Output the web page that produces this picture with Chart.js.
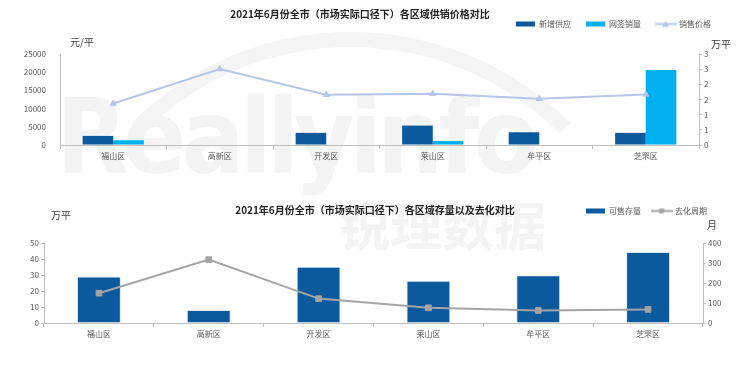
<!DOCTYPE html>
<html>
<head>
<meta charset="utf-8">
<script src="https://cdn.jsdelivr.net/npm/chart.js@4/dist/chart.umd.min.js"></script>
<style>
  html, body { margin: 0; padding: 0; background: #fff; }
  #wrap { position: relative; width: 740px; height: 369px; overflow: hidden; }
  .wm { position: absolute; color: #f4f4f4; font-weight: bold; white-space: nowrap; }
  .ring { position: absolute; border-radius: 50%; border: 15px solid transparent; border-top-color: #f5f5f5; }
  canvas { position: absolute; left: 0; }
</style>
</head>
<body>
<div id="wrap">
  <div class="ring" style="left:41px;top:32px;width:590px;height:590px;"></div>
  <div class="wm" style="left:56px;top:76px;font-size:104px;letter-spacing:-5px;font-stretch:condensed;font-family:'DejaVu Sans',sans-serif;">Reallyinfo</div>
  <div class="wm" style="left:338px;top:186px;font-size:52px;font-family:'Noto Sans CJK SC',sans-serif;">锐理数据</div>
  <canvas id="c1" width="740" height="185" style="top:0"></canvas>
  <canvas id="c2" width="740" height="184" style="top:185px"></canvas>
</div>
<script>
const districts = ['福山区', '高新区', '开发区', '莱山区', '牟平区', '芝罘区'];

// top chart: supply / sales in 万平 (right axis), price in 元/平 (left axis)
const newSupply = [0.30, 0, 0.40, 0.64, 0.42, 0.40];
const signedSales = [0.155, 0, 0, 0.13, 0, 2.47];
const salePrice = [11400, 20900, 13800, 14100, 12700, 13900];

// bottom chart: stock in 万平 (left), months to sell (right)
const stock = [29.1, 8.1, 35.1, 26.4, 29.9, 44.4];
const cycleMonths = [149, 317, 122, 76, 63, 68];

const FONT = '"Noto Sans CJK SC", "Noto Sans", sans-serif';
const tickFont = { family: FONT, size: 8 };
const tickColor = '#595959';
const axisColor = '#BFBFBF';
const darkBlue = '#0B5A9E';
const cyan = '#00B0F0';
const priceColor = '#B4C7E7';
const cycleColor = '#A5A5A5';

// little line+marker picture for the legend
function lineIcon(color, shape) {
  const c = document.createElement('canvas');
  c.width = 22; c.height = 9;
  const g = c.getContext('2d');
  g.strokeStyle = color; g.fillStyle = color; g.lineWidth = 2;
  g.beginPath(); g.moveTo(0, 4.5); g.lineTo(22, 4.5); g.stroke();
  g.beginPath();
  if (shape === 'triangle') {
    g.moveTo(11, 1.5); g.lineTo(14.5, 7.5); g.lineTo(7.5, 7.5); g.closePath();
  } else {
    g.rect(8.5, 2, 5, 5);
  }
  g.fill();
  return c;
}

function legendItems(chart) {
  return chart.data.datasets.map((ds, i) => ({
    text: ds.label,
    fillStyle: ds.backgroundColor,
    strokeStyle: ds.backgroundColor,
    lineWidth: 0,
    pointStyle: ds.type === 'line' ? ds.legendIcon : 'rect',
    fontColor: tickColor,
    datasetIndex: i,
    hidden: false,
  }));
}

// fixes the legend box height and its right edge
const legendBox = {
  id: 'legendBox',
  afterInit(chart, args, opts) {
    const legend = chart.legend;
    if (!legend) return;
    const fit = legend.fit;
    legend.fit = function () { fit.call(this); this.height = opts.height; };
  },
  afterLayout(chart, args, opts) {
    if (chart.legend && opts.right) chart.legend.right = opts.right;
  },
};

// title and axis unit captions
const captions = {
  id: 'captions',
  afterDraw(chart, args, opts) {
    const ctx = chart.ctx;
    ctx.save();
    ctx.textBaseline = 'middle';
    opts.items.forEach((t) => {
      ctx.font = t.font;
      ctx.fillStyle = t.color;
      ctx.textAlign = t.align || 'left';
      ctx.fillText(t.text, t.x, t.y);
    });
    ctx.restore();
  },
};

const titleFont = 'bold 10px ' + FONT;
const unitFont = '10px ' + FONT;

function xAxis() {
  return {
    grid: { display: true, drawOnChartArea: false, drawTicks: true, tickLength: 4, color: axisColor },
    border: { color: axisColor },
    ticks: { font: tickFont, color: tickColor, padding: 2 },
    afterFit(s) { s.height = 20; },
  };
}

new Chart(document.getElementById('c1'), {
  type: 'bar',
  data: {
    labels: districts,
    datasets: [
      {
        type: 'bar', label: '新增供应', data: newSupply, backgroundColor: darkBlue,
        yAxisID: 'y1', order: 1, categoryPercentage: 0.575, barPercentage: 1,
      },
      {
        type: 'bar', label: '网签销量', data: signedSales, backgroundColor: cyan,
        yAxisID: 'y1', order: 1, categoryPercentage: 0.575, barPercentage: 1,
      },
      {
        type: 'line', label: '销售价格', data: salePrice, yAxisID: 'y', order: 0,
        borderColor: priceColor, backgroundColor: priceColor, borderWidth: 2,
        pointStyle: 'triangle', pointRadius: 3.5, pointBackgroundColor: priceColor,
        pointBorderColor: priceColor, pointBorderWidth: 1,
        legendIcon: lineIcon(priceColor, 'triangle'),
      },
    ],
  },
  options: {
    responsive: false,
    animation: false,
    layout: { padding: { left: 10, right: 2, top: 5, bottom: 20 } },
    plugins: {
      legend: {
        position: 'top', align: 'end',
        labels: {
          usePointStyle: true, pointStyleWidth: 19, boxHeight: 5, padding: 15,
          font: tickFont, color: tickColor, generateLabels: legendItems,
        },
      },
      tooltip: { enabled: false },
      legendBox: { height: 49, right: 726 },
      captions: {
        items: [
          { text: '2021年6月份全市（市场实际口径下）各区域供销价格对比', x: 360, y: 14, font: titleFont, color: '#222', align: 'center' },
          { text: '元/平', x: 70, y: 42, font: unitFont, color: '#404040' },
          { text: '万平', x: 711, y: 44, font: unitFont, color: '#404040' },
        ],
      },
    },
    scales: {
      x: xAxis(),
      y: {
        position: 'left', min: 0, max: 25000,
        ticks: { stepSize: 5000, font: tickFont, color: tickColor, padding: 6, callback: (v) => String(v) },
        grid: { display: false },
        border: { color: axisColor },
        afterFit(s) { s.width = 50; },
      },
      y1: {
        position: 'right', min: 0, max: 3,
        ticks: { stepSize: 0.5, font: tickFont, color: tickColor, padding: 2, callback: (v) => Math.round(v) },
        grid: { drawOnChartArea: false, tickLength: 3, color: axisColor },
        border: { color: axisColor },
        afterFit(s) { s.width = 39; },
      },
    },
  },
  plugins: [legendBox, captions],
});

new Chart(document.getElementById('c2'), {
  type: 'bar',
  data: {
    labels: districts,
    datasets: [
      {
        type: 'bar', label: '可售存量', data: stock, backgroundColor: darkBlue,
        borderColor: '#DCE8F5', borderWidth: 1, yAxisID: 'y', order: 1,
        categoryPercentage: 0.4, barPercentage: 1,
      },
      {
        type: 'line', label: '去化周期', data: cycleMonths, yAxisID: 'y1', order: 0,
        borderColor: cycleColor, backgroundColor: cycleColor, borderWidth: 2,
        pointStyle: 'rect', pointRadius: 4, pointBackgroundColor: cycleColor,
        pointBorderColor: cycleColor, pointBorderWidth: 1,
        legendIcon: lineIcon(cycleColor, 'rect'),
      },
    ],
  },
  options: {
    responsive: false,
    animation: false,
    layout: { padding: { left: 10, right: 2, top: 11, bottom: 26 } },
    plugins: {
      legend: {
        position: 'top', align: 'end',
        labels: {
          usePointStyle: true, pointStyleWidth: 19, boxHeight: 5, padding: 11,
          font: tickFont, color: tickColor, generateLabels: legendItems,
        },
      },
      tooltip: { enabled: false },
      legendBox: { height: 47, right: 718 },
      captions: {
        items: [
          { text: '2021年6月份全市（市场实际口径下）各区域存量以及去化对比', x: 375, y: 25, font: titleFont, color: '#222', align: 'center' },
          { text: '万平', x: 51, y: 30, font: unitFont, color: '#404040' },
          { text: '月', x: 707, y: 40, font: unitFont, color: '#404040' },
        ],
      },
    },
    scales: {
      x: xAxis(),
      y: {
        position: 'left', min: 0, max: 50,
        ticks: { stepSize: 10, font: tickFont, color: tickColor, padding: 2 },
        grid: { drawOnChartArea: false, tickLength: 3, color: axisColor },
        border: { color: axisColor },
        afterFit(s) { s.width = 34; },
      },
      y1: {
        position: 'right', min: 0, max: 400,
        ticks: { stepSize: 100, font: tickFont, color: tickColor, padding: 2 },
        grid: { drawOnChartArea: false, tickLength: 3, color: axisColor },
        border: { color: axisColor },
        afterFit(s) { s.width = 35; },
      },
    },
  },
  plugins: [legendBox, captions],
});
</script>
</body>
</html>
